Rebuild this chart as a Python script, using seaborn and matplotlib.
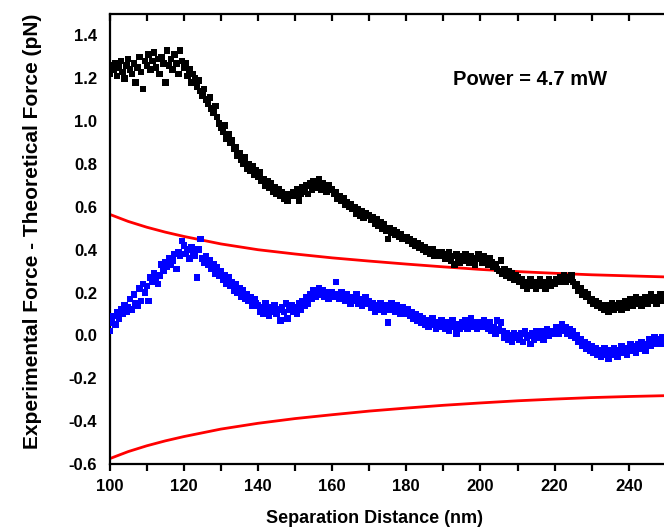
import numpy as np
import pandas as pd
import matplotlib
matplotlib.use("Agg")
import matplotlib.pyplot as plt
from matplotlib.ticker import MultipleLocator, FormatStrFormatter
import seaborn as sns

# Separation distance grid (nm), one sample every 0.5 nm
separation = [100 + 0.5 * i for i in range(300)]

# Experimental minus theoretical force (pN), black series
force_black = [
    1.22, 1.26, 1.24, 1.27, 1.21, 1.25, 1.28, 1.23, 1.20, 1.26, 1.29, 1.24, 1.22, 1.27, 1.18, 1.25, 1.30, 1.23, 1.15, 1.28,
    1.26, 1.31, 1.24, 1.28, 1.32, 1.25, 1.29, 1.22, 1.30, 1.27, 1.18, 1.33, 1.26, 1.29, 1.24, 1.31, 1.27, 1.22, 1.33, 1.28,
    1.25, 1.27, 1.21, 1.24, 1.18, 1.22, 1.20, 1.16, 1.19, 1.14, 1.12, 1.15, 1.10, 1.08, 1.11, 1.06, 1.04, 1.07, 1.02, 0.99,
    0.97, 0.95, 0.98, 0.92, 0.94, 0.90, 0.91, 0.87, 0.88, 0.84, 0.85, 0.82, 0.80, 0.83, 0.78, 0.80, 0.77, 0.79, 0.75, 0.77,
    0.74, 0.76, 0.72, 0.73, 0.70, 0.72, 0.69, 0.71, 0.67, 0.69, 0.66, 0.68, 0.65, 0.67, 0.64, 0.66, 0.63, 0.66, 0.65, 0.67,
    0.65, 0.68, 0.63, 0.66, 0.69, 0.67, 0.70, 0.66, 0.71, 0.68, 0.72, 0.69, 0.70, 0.73, 0.68, 0.71, 0.69, 0.67, 0.70, 0.68,
    0.68, 0.66, 0.67, 0.64, 0.65, 0.63, 0.64, 0.61, 0.62, 0.60, 0.61, 0.59, 0.60, 0.57, 0.59, 0.56, 0.58, 0.55, 0.57, 0.56,
    0.56, 0.54, 0.55, 0.52, 0.54, 0.51, 0.53, 0.50, 0.52, 0.49, 0.45, 0.50, 0.48, 0.49, 0.47, 0.48, 0.46, 0.47, 0.45, 0.46,
    0.46, 0.44, 0.45, 0.43, 0.44, 0.42, 0.43, 0.41, 0.42, 0.40, 0.41, 0.39, 0.40, 0.38, 0.40, 0.37, 0.39, 0.38, 0.37, 0.39,
    0.38, 0.36, 0.37, 0.39, 0.35, 0.37, 0.33, 0.38, 0.36, 0.34, 0.37, 0.35, 0.38, 0.36, 0.34, 0.37, 0.35, 0.33, 0.36, 0.38,
    0.36, 0.34, 0.37, 0.35, 0.33, 0.36, 0.34, 0.32, 0.33, 0.31, 0.30, 0.35, 0.29, 0.31, 0.28, 0.30, 0.27, 0.29, 0.26, 0.28,
    0.27, 0.25, 0.26, 0.23, 0.25, 0.22, 0.24, 0.26, 0.23, 0.25, 0.22, 0.24, 0.26, 0.23, 0.25, 0.22, 0.24, 0.26, 0.23, 0.25,
    0.24, 0.26, 0.25, 0.27, 0.26, 0.28, 0.25, 0.27, 0.26, 0.28, 0.25, 0.23, 0.24, 0.21, 0.22, 0.19, 0.20, 0.18, 0.19, 0.16,
    0.17, 0.15, 0.16, 0.14, 0.15, 0.13, 0.14, 0.12, 0.14, 0.11, 0.13, 0.15, 0.12, 0.14, 0.13, 0.15, 0.12, 0.14, 0.16, 0.13,
    0.15, 0.17, 0.14, 0.16, 0.18, 0.15, 0.17, 0.14, 0.16, 0.18, 0.15, 0.17, 0.19, 0.16, 0.18, 0.15, 0.17, 0.19, 0.16, 0.18,
]

# Experimental minus theoretical force (pN), blue series
force_blue = [
    0.02, 0.06, 0.09, 0.05, 0.11, 0.08, 0.12, 0.10, 0.14, 0.11, 0.13, 0.17, 0.12, 0.19, 0.15, 0.14, 0.22, 0.16, 0.24, 0.20,
    0.23, 0.16, 0.27, 0.25, 0.29, 0.26, 0.24, 0.28, 0.33, 0.30, 0.34, 0.32, 0.36, 0.33, 0.35, 0.38, 0.31, 0.39, 0.37, 0.44,
    0.42, 0.38, 0.40, 0.36, 0.41, 0.39, 0.37, 0.27, 0.40, 0.45, 0.36, 0.34, 0.37, 0.33, 0.35, 0.31, 0.33, 0.29, 0.32, 0.28,
    0.30, 0.26, 0.28, 0.24, 0.27, 0.23, 0.25, 0.21, 0.24, 0.20, 0.22, 0.18, 0.21, 0.17, 0.19, 0.16, 0.18, 0.14, 0.17, 0.15,
    0.14, 0.11, 0.13, 0.10, 0.15, 0.12, 0.09, 0.13, 0.11, 0.14, 0.10, 0.12, 0.07, 0.13, 0.11, 0.15, 0.08, 0.12, 0.14, 0.11,
    0.13, 0.10, 0.15, 0.12, 0.16, 0.14, 0.18, 0.15, 0.19, 0.17, 0.21, 0.18, 0.20, 0.22, 0.19, 0.21, 0.18, 0.20, 0.17, 0.19,
    0.20, 0.18, 0.25, 0.19, 0.17, 0.20, 0.18, 0.16, 0.19, 0.17, 0.15, 0.18, 0.16, 0.19, 0.15, 0.17, 0.14, 0.16, 0.18, 0.15,
    0.16, 0.13, 0.15, 0.11, 0.14, 0.12, 0.15, 0.13, 0.11, 0.14, 0.06, 0.12, 0.15, 0.13, 0.11, 0.14, 0.12, 0.10, 0.13, 0.11,
    0.10, 0.12, 0.09, 0.11, 0.08, 0.10, 0.07, 0.09, 0.06, 0.08, 0.05, 0.07, 0.04, 0.06, 0.08, 0.05, 0.03, 0.06, 0.04, 0.07,
    0.05, 0.03, 0.06, 0.02, 0.05, 0.07, 0.04, 0.01, 0.05, 0.03, 0.06, 0.04, 0.07, 0.03, 0.05, 0.08, 0.04, 0.06, 0.03, 0.05,
    0.06, 0.04, 0.07, 0.05, 0.03, 0.06, 0.02, 0.04, 0.01, 0.07, 0.03, 0.06, 0.02, -0.01, 0.01, -0.02, 0.00, -0.03, 0.01, -0.01,
    0.00, -0.02, 0.01, -0.03, 0.02, -0.01, 0.00, -0.04, 0.01, -0.02, 0.02, 0.00, -0.01, 0.02, -0.02, 0.01, 0.03, 0.00, 0.02, 0.01,
    0.02, 0.04, 0.01, 0.03, 0.05, 0.02, 0.04, 0.01, 0.03, 0.00, 0.02, -0.01, 0.00, -0.03, -0.02, -0.05, -0.03, -0.06, -0.04, -0.07,
    -0.05, -0.08, -0.06, -0.09, -0.07, -0.10, -0.08, -0.06, -0.09, -0.11, -0.07, -0.09, -0.06, -0.08, -0.10, -0.07, -0.05, -0.08, -0.06, -0.09,
    -0.06, -0.04, -0.07, -0.05, -0.08, -0.04, -0.06, -0.03, -0.05, -0.07, -0.04, -0.02, -0.05, -0.03, -0.01, -0.04, -0.02, -0.04, -0.01, -0.03,
]

# Upper and lower bound curves (pN)
bound_x = [100, 105, 110, 115, 120, 130, 140, 150, 160, 170, 180, 190, 200, 210, 220, 230, 240, 250]
bound_upper = [0.565, 0.532, 0.505, 0.482, 0.462, 0.427, 0.400, 0.380, 0.362, 0.347, 0.333, 0.320, 0.308, 0.298, 0.290, 0.283, 0.278, 0.273]
bound_lower = [-0.575, -0.542, -0.515, -0.492, -0.472, -0.437, -0.410, -0.388, -0.370, -0.353, -0.339, -0.326, -0.315, -0.305, -0.297, -0.290, -0.285, -0.281]

annotation = "Power = 4.7 mW"
x_title = "Separation Distance (nm)"
y_title = "Experimental Force - Theoretical Force (pN)"

sns.set_style("white")
plt.rcParams["font.family"] = ["Liberation Sans", "DejaVu Sans"]
plt.rcParams["font.weight"] = "bold"
for key in ["text.color", "axes.labelcolor", "xtick.color", "ytick.color"]:
    plt.rcParams[key] = "black"

df_pts = pd.DataFrame({
    "x": separation * 2,
    "y": force_black + force_blue,
    "series": ["black"] * len(force_black) + ["blue"] * len(force_blue),
})
df_bounds = pd.DataFrame({
    "x": bound_x * 2,
    "y": bound_upper + bound_lower,
    "curve": ["upper"] * len(bound_x) + ["lower"] * len(bound_x),
})

fig = plt.figure(figsize=(6.64, 5.32), dpi=100)
ax = fig.add_axes([0.1652, 0.1278, 0.8348, 0.8459])

sns.lineplot(data=df_bounds, x="x", y="y", units="curve", estimator=None,
             color="#ff0000", linewidth=2.0, ax=ax, zorder=2)
sns.scatterplot(data=df_pts, x="x", y="y", hue="series",
                palette={"black": "#000000", "blue": "#0000ff"},
                marker="s", s=22, linewidth=0, legend=False, ax=ax, zorder=3)

ax.set_xlim(100, 249.5)
ax.set_ylim(-0.6, 1.5)

ax.xaxis.set_major_locator(MultipleLocator(20))
ax.xaxis.set_minor_locator(MultipleLocator(10))
ax.yaxis.set_major_locator(MultipleLocator(0.2))
ax.yaxis.set_minor_locator(MultipleLocator(0.1))
ax.yaxis.set_major_formatter(FormatStrFormatter("%.1f"))
ax.set_xticks(list(range(100, 241, 20)))

for side in ["left", "bottom", "top"]:
    ax.spines[side].set_linewidth(1.6)
    ax.spines[side].set_color("black")
ax.spines["right"].set_visible(False)

ax.tick_params(axis="both", which="both", direction="out", width=1.6,
               colors="black", labelsize=12)
ax.tick_params(axis="y", which="major", length=6, pad=3)
ax.tick_params(axis="y", which="minor", length=4)
ax.tick_params(axis="x", which="both", length=5, pad=6)
for lab in ax.get_xticklabels() + ax.get_yticklabels():
    lab.set_fontweight("bold")

# Inward ticks along the top edge
top = ax.twiny()
top.set_xlim(ax.get_xlim())
top.xaxis.set_major_locator(MultipleLocator(10))
top.tick_params(axis="x", which="both", direction="in", length=5, width=1.6,
                labeltop=False, top=True)
for side in top.spines.values():
    side.set_visible(False)

ax.set_xlabel(x_title, fontsize=13, fontweight="bold")
ax.set_ylabel(y_title, fontsize=15, fontweight="bold")
ax.xaxis.set_label_coords(0.477, -0.102)
ax.yaxis.set_label_coords(-0.122, 0.516)

ax.text(192.5, 1.195, annotation, fontsize=14.5, fontweight="bold",
        ha="left", va="center", color="black")

fig.savefig("out.png", dpi=100)
